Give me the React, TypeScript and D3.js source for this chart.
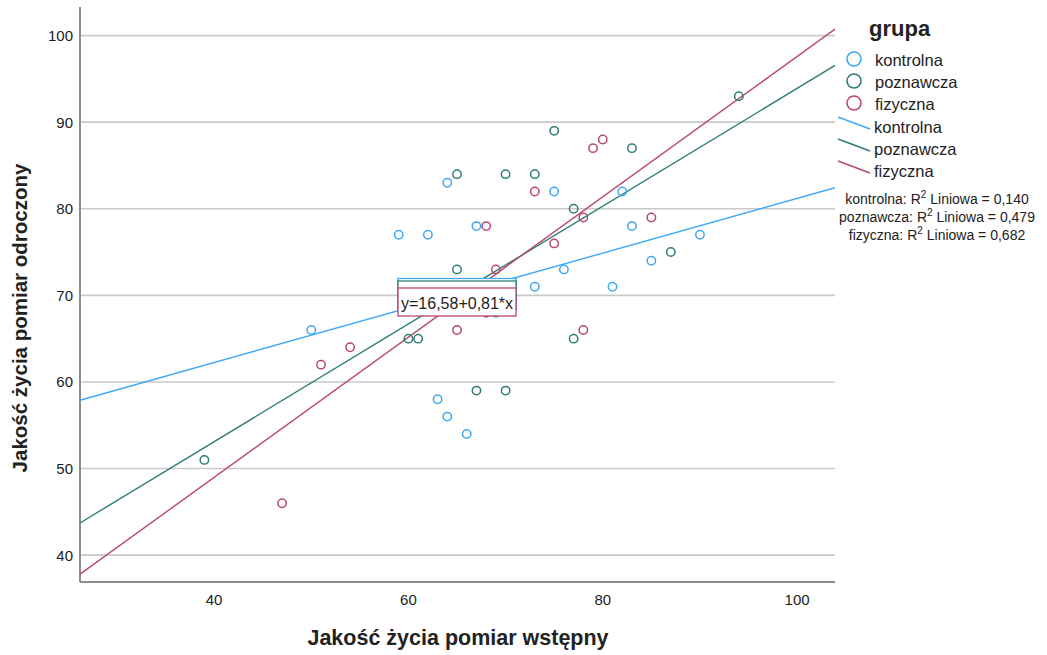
import React from 'react';
import * as d3 from 'd3';

// groups and their colours
const groups = ['kontrolna', 'poznawcza', 'fizyczna'];
const colors = ['#3ea9f2', '#2e7e77', '#b8476f'];

// points: [pomiar wstępny, pomiar odroczony]
const kontrolna = [
  [50, 66], [59, 77], [62, 77], [64, 83], [67, 78], [75, 82], [82, 82], [76, 73], [73, 71],
  [81, 71], [83, 78], [85, 74], [90, 77], [63, 58], [64, 56], [66, 54], [69, 68],
];
const poznawcza = [
  [39, 51], [60, 65], [61, 65], [65, 73], [65, 84], [70, 84], [73, 84], [75, 89], [83, 87],
  [77, 80], [67, 59], [70, 59], [77, 65], [87, 75], [94, 93],
];
const fizyczna = [
  [47, 46], [51, 62], [54, 64], [65, 66], [68, 68], [69, 73], [68, 78], [73, 82], [75, 76],
  [78, 79], [79, 87], [80, 88], [85, 79], [78, 66],
];
const seriesPoints = [kontrolna, poznawcza, fizyczna];

// fit lines: intercept, slope
const intercepts = [49.6, 25.9, 16.58];
const slopes = [0.316, 0.68, 0.81];
const r2Labels = [
  'kontrolna: R² Liniowa = 0,140',
  'poznawcza: R² Liniowa = 0,479',
  'fizyczna: R² Liniowa = 0,682',
];

const xTicks = [40, 60, 80, 100];
const yTicks = [40, 50, 60, 70, 80, 90, 100];
const xDomain = [26.2, 103.9];
const yDomain = [36.9, 103.3];

const FONT = 'Liberation Sans, Arial, sans-serif';

function App() {
  const width = 1047;
  const height = 655;
  const margin = { top: 7, right: 212, bottom: 73, left: 80 };

  const x = d3.scaleLinear().domain(xDomain).range([margin.left, width - margin.right]);
  const y = d3.scaleLinear().domain(yDomain).range([height - margin.bottom, margin.top]);

  const [x0, x1] = xDomain;

  return (
    <svg width={width} height={height} style={{ position: 'absolute', left: 0, top: 0, fontFamily: FONT }}>
      <rect width={width} height={height} fill="#fff" />
      <defs>
        <clipPath id="plot">
          <rect x={margin.left} y={margin.top} width={width - margin.left - margin.right} height={height - margin.top - margin.bottom} />
        </clipPath>
      </defs>

      {/* grid */}
      {yTicks.map(t => (
        <line key={t} x1={margin.left} x2={width - margin.right} y1={y(t)} y2={y(t)} stroke="#c9c9c9" strokeWidth={1.6} />
      ))}

      {/* axes */}
      <line x1={margin.left} x2={margin.left} y1={margin.top} y2={height - margin.bottom} stroke="#8c8c8c" strokeWidth={2} />
      <line x1={margin.left} x2={width - margin.right} y1={height - margin.bottom} y2={height - margin.bottom} stroke="#8c8c8c" strokeWidth={2} />
      {yTicks.map(t => (
        <text key={t} x={margin.left - 7} y={y(t)} dy="0.36em" textAnchor="end" fontSize={15} fill="#222">{t}</text>
      ))}
      {xTicks.map(t => (
        <text key={t} x={x(t)} y={height - margin.bottom + 23} textAnchor="middle" fontSize={15} fill="#222">{t}</text>
      ))}

      {/* fit lines */}
      <g clipPath="url(#plot)">
        {groups.map((g, i) => (
          <line key={g}
            x1={x(x0)} y1={y(intercepts[i] + slopes[i] * x0)}
            x2={x(x1)} y2={y(intercepts[i] + slopes[i] * x1)}
            stroke={colors[i]} strokeWidth={1.4} />
        ))}
      </g>

      {/* points */}
      {seriesPoints.map((pts, i) => (
        <g key={i}>
          {pts.map((d, j) => (
            <circle key={j} cx={x(d[0])} cy={y(d[1])} r={4.2} fill="none" stroke={colors[i]} strokeWidth={1.5} />
          ))}
        </g>
      ))}

      {/* equation labels, stacked */}
      <rect x={398} y={278.5} width={118} height={28} fill="#fff" stroke={colors[0]} strokeWidth={1.3} />
      <rect x={398} y={281} width={118} height={28} fill="#fff" stroke={colors[1]} strokeWidth={1.3} />
      <rect x={398} y={288} width={118} height={28} fill="#fff" stroke={colors[2]} strokeWidth={1.3} />
      <text x={401} y={309} fontSize={16} fill="#222">y=16,58+0,81*x</text>

      {/* axis titles */}
      <text x={458} y={645} textAnchor="middle" fontSize={21.5} fontWeight="bold" fill="#222">Jakość życia pomiar wstępny</text>
      <text transform={`translate(27,${318}) rotate(-90)`} textAnchor="middle" fontSize={20.5} fontWeight="bold" fill="#222">Jakość życia pomiar odroczony</text>

      {/* legend */}
      <text x={869} y={36} fontSize={22} fontWeight="bold" fill="#222">grupa</text>
      {groups.map((g, i) => (
        <g key={g}>
          <circle cx={854} cy={59 + i * 22} r={7} fill="none" stroke={colors[i]} strokeWidth={1.6} />
          <text x={875} y={60 + i * 22} dy="0.35em" fontSize={16.5} fill="#222">{g}</text>
        </g>
      ))}
      {groups.map((g, i) => (
        <g key={'l' + g}>
          <line x1={838} y1={117 + i * 22} x2={870} y2={129 + i * 22} stroke={colors[i]} strokeWidth={1.4} />
          <text x={874} y={127 + i * 22} dy="0.35em" fontSize={16.5} fill="#222">{g}</text>
        </g>
      ))}
      {r2Labels.map((s, i) => {
        const [pre, post] = s.split('²');
        return (
          <text key={s} x={937} y={204 + i * 18} textAnchor="middle" fontSize={14} fill="#222">
            {pre.slice(0, -1)}R<tspan dy={-6} fontSize={10}>2</tspan><tspan dy={6}>{post}</tspan>
          </text>
        );
      })}
    </svg>
  );
}

export default App;
